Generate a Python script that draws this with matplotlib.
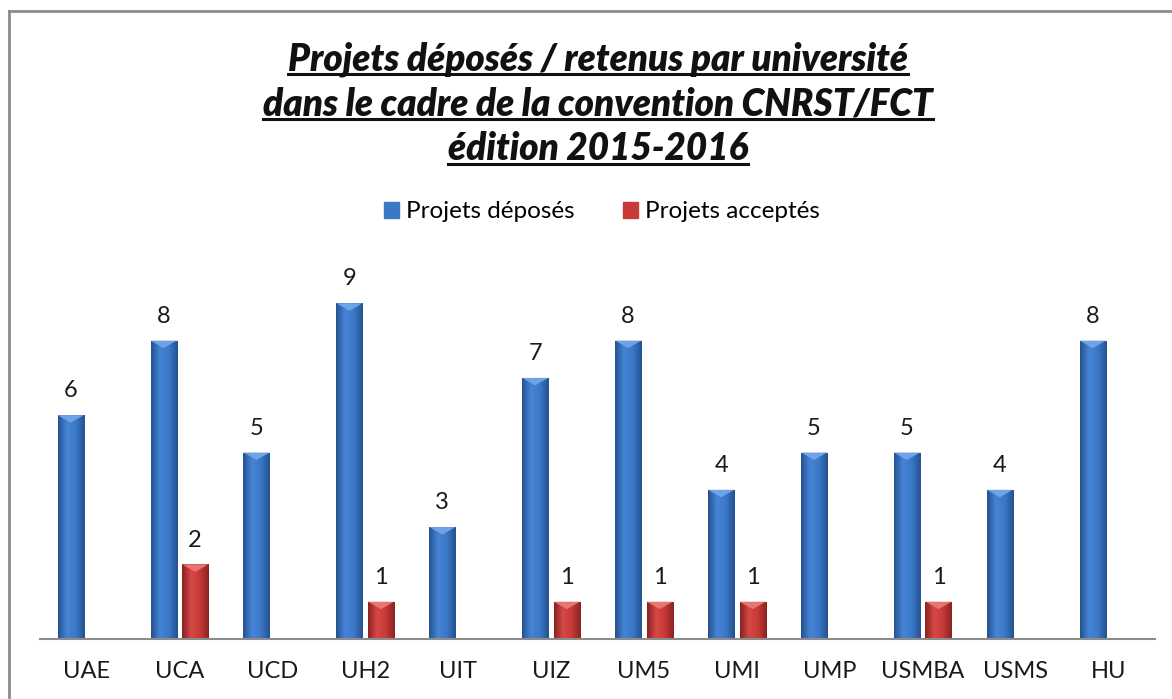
import numpy as np
import matplotlib.pyplot as plt
from matplotlib.lines import Line2D
from matplotlib.patches import Polygon, Rectangle
from matplotlib.colors import LinearSegmentedColormap

plt.rcParams['font.family'] = ['Lato', 'DejaVu Sans']

universites = ['UAE', 'UCA', 'UCD', 'UH2', 'UIT', 'UIZ', 'UM5', 'UMI', 'UMP', 'USMBA', 'USMS', 'HU']
deposes = [6, 8, 5, 9, 3, 7, 8, 4, 5, 5, 4, 8]
acceptes = [0, 2, 0, 1, 0, 1, 1, 1, 0, 1, 0, 0]
titre = ['Projets déposés / retenus par université',
         'dans le cadre de la convention CNRST/FCT',
         'édition 2015-2016']

W, H = 1172, 699
fig = plt.figure(figsize=(W / 100, H / 100), dpi=100)
ax = fig.add_axes([40 / W, 60 / H, 1115 / W, 373 / H])

x = np.arange(len(universites))
bw = 0.28
off = 0.17

bleu = LinearSegmentedColormap.from_list('b', ['#25528f', '#4684d6', '#3c78c8', '#25528f'])
rouge = LinearSegmentedColormap.from_list('r', ['#8a2222', '#d44846', '#c73a38', '#8a2222'])
grad = np.linspace(0, 1, 64).reshape(1, -1)


def barres(pos, vals, cmap, pointe):
    bars = ax.bar(pos, vals, bw, color='none', edgecolor='none', zorder=2)
    for b, v in zip(bars, vals):
        if v <= 0:
            continue
        bx, by, w, h = b.get_x(), b.get_y(), b.get_width(), b.get_height()
        im = ax.imshow(grad, cmap=cmap, aspect='auto', extent=[bx, bx + w, by, by + h],
                       zorder=2, interpolation='bicubic')
        im.set_clip_path(b)
        ax.add_patch(Polygon([(bx, by + h), (bx + w, by + h), (bx + w / 2, by + h - 0.2)],
                             closed=True, color=pointe, zorder=3, lw=0))
        ax.annotate(str(v), (bx + w / 2, by + h), xytext=(0, 10), textcoords='offset points',
                    ha='center', va='bottom', fontsize=17, color='#1a1a1a')
    return bars


barres(x - off, deposes, bleu, '#6fa3e8')
barres(x + off, acceptes, rouge, '#e87572')

ax.set_xlim(-0.5, len(universites) - 0.5)
ax.set_ylim(0, 10)
ax.set_xticks(x)
ax.set_xticklabels(universites, fontsize=17, color='#1a1a1a')
ax.tick_params(axis='x', length=0, pad=16)
ax.set_yticks([])
for s in ['left', 'right', 'top']:
    ax.spines[s].set_visible(False)
ax.spines['bottom'].set_color('#8c8c8c')
ax.spines['bottom'].set_linewidth(1.5)
ax.set_facecolor('none')

# titre souligné
textes = []
for i, ligne in enumerate(titre):
    t = fig.text(598 / W, 1 - (59 + 45 * i) / H, ligne, ha='center', va='center',
                 fontsize=26.5, fontweight='heavy', fontstyle='italic', color='#111111')
    textes.append(t)

handles = [Rectangle((0, 0), 1, 1, color='#3c78c8'), Rectangle((0, 0), 1, 1, color='#c73a38')]
fig.legend(handles, ['Projets déposés', 'Projets acceptés'], loc='center',
           bbox_to_anchor=(602 / W, 1 - 212 / H), ncol=2, frameon=False, fontsize=17.5,
           handlelength=0.6, handleheight=0.6, handletextpad=0.3, columnspacing=2.0)

# cadre
fig.add_artist(Line2D([9.5 / W, 9.5 / W], [0, 1 - 11 / H], color='#8c8c8c', lw=2))
fig.add_artist(Line2D([9.5 / W, 1], [1 - 11 / H, 1 - 11 / H], color='#8c8c8c', lw=2))

fig.canvas.draw()
r = fig.canvas.get_renderer()
for t in textes:
    bb = t.get_window_extent(r)
    y = bb.y0 + 3
    fig.add_artist(Line2D([bb.x0 / W, bb.x1 / W], [y / H, y / H], color='#111111', lw=2.2))

fig.savefig('out.png', dpi=100)
